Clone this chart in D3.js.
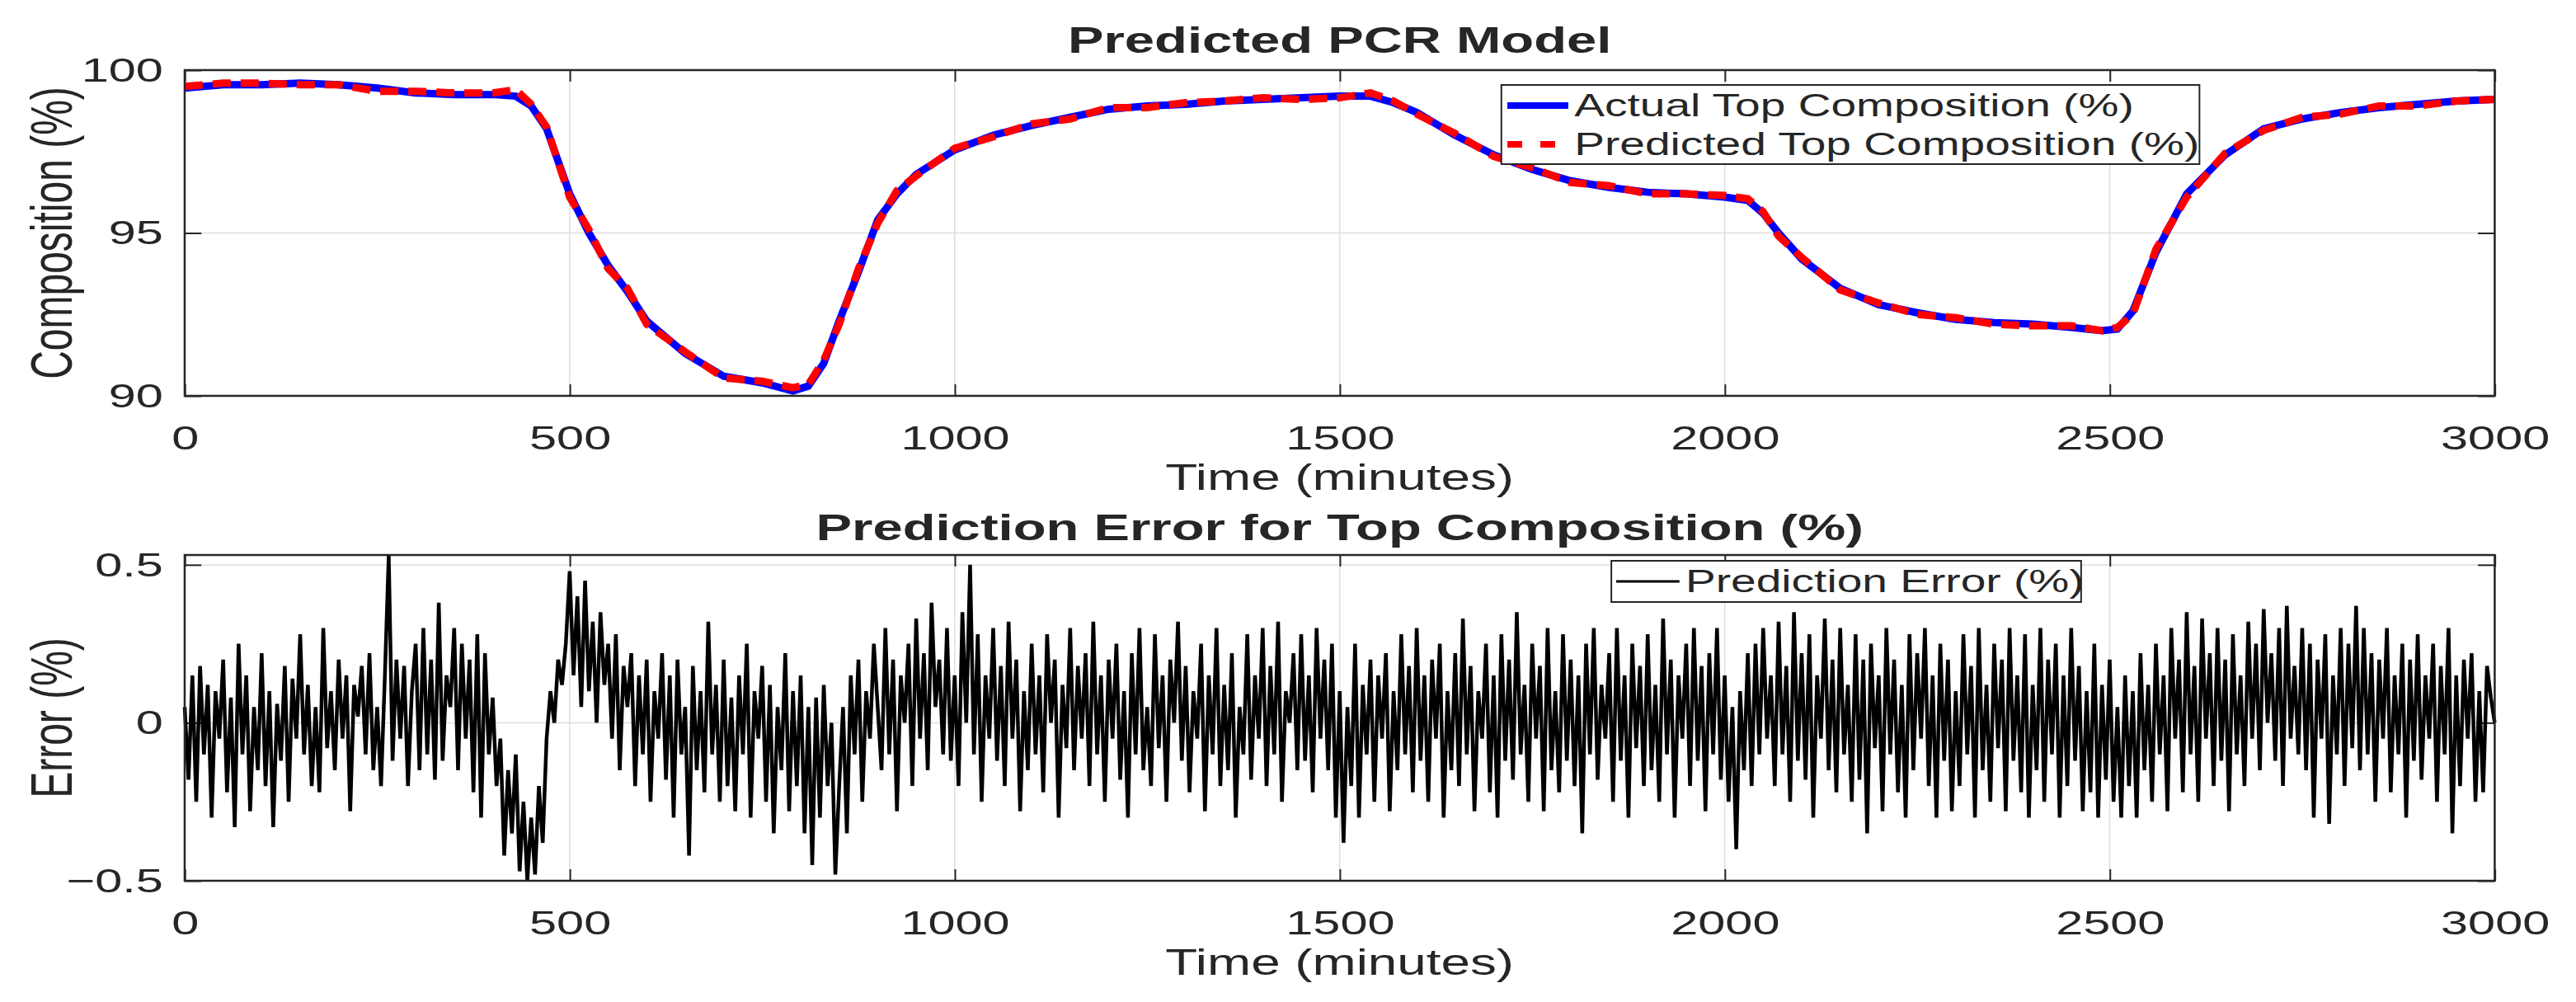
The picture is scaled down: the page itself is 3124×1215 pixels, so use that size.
<!DOCTYPE html>
<html>
<head>
<meta charset="utf-8">
<script src="https://cdn.jsdelivr.net/npm/d3@7"></script>
<style>
  html, body { margin: 0; padding: 0; background: #fff; }
  svg { display: block; }
  text { font-family: "Liberation Sans", Arial, sans-serif; fill: #262626; }
</style>
</head>
<body>
<div id="chart"></div>
<script>
// Data
const compTimes = [0,50,100,150,200,250,300,350,400,430,450,470,500,525,550,575,600,650,700,750,790,810,830,850,875,900,925,950,1000,1050,1100,1150,1200,1250,1300,1350,1400,1450,1500,1540,1570,1600,1650,1700,1750,1800,1850,1900,1950,2000,2030,2050,2070,2100,2150,2200,2250,2300,2350,2400,2450,2490,2510,2530,2560,2600,2650,2700,2750,2800,2850,2900,2950,3000];
const actualComp = [99.45,99.55,99.55,99.6,99.55,99.45,99.3,99.25,99.25,99.2,98.9,98.2,96.2,95.0,94.0,93.2,92.3,91.3,90.6,90.4,90.15,90.3,91.0,92.3,93.8,95.4,96.2,96.8,97.55,98.0,98.3,98.55,98.8,98.9,98.95,99.05,99.1,99.15,99.2,99.2,99.0,98.7,98.0,97.4,96.95,96.6,96.4,96.25,96.2,96.1,96.0,95.6,95.0,94.2,93.3,92.8,92.55,92.35,92.25,92.2,92.1,92.0,92.05,92.6,94.4,96.2,97.4,98.2,98.5,98.7,98.85,98.95,99.05,99.1];
const predictedComp = [99.5,99.6,99.6,99.55,99.55,99.35,99.35,99.3,99.3,99.4,98.95,98.25,96.1,95.1,93.9,93.3,92.2,91.35,90.55,90.45,90.25,90.35,91.1,92.2,93.9,95.3,96.3,96.75,97.6,97.95,98.35,98.5,98.85,98.85,99.0,99.05,99.15,99.1,99.15,99.3,99.05,98.65,98.05,97.35,97.0,96.55,96.45,96.2,96.2,96.15,96.05,95.65,94.9,94.25,93.25,92.85,92.5,92.4,92.2,92.15,92.15,92.0,92.1,92.5,94.5,96.1,97.45,98.15,98.55,98.65,98.9,98.9,99.05,99.1];

const errorStep = 5; // minutes between error samples
const errorValues = [
0.05,-0.18,0.15,-0.25,0.18,-0.1,0.12,-0.3,0.1,-0.05,
0.2,-0.22,0.08,-0.33,0.25,-0.1,0.15,-0.28,0.05,-0.15,
0.22,-0.2,0.1,-0.33,0.06,-0.12,0.18,-0.25,0.14,-0.05,
0.28,-0.1,0.12,-0.2,0.05,-0.22,0.3,-0.08,0.1,-0.15,
0.2,-0.05,0.15,-0.28,0.12,0.02,0.18,-0.1,0.22,-0.15,
0.05,-0.2,0.15,0.53,-0.12,0.2,-0.05,0.18,-0.2,0.1,
0.25,-0.15,0.3,-0.1,0.2,-0.18,0.38,-0.12,0.15,0.05,
0.3,-0.15,0.25,-0.05,0.2,-0.22,0.28,-0.3,0.22,-0.1,
0.08,-0.2,-0.05,-0.42,-0.15,-0.35,-0.1,-0.47,-0.25,-0.5,
-0.3,-0.48,-0.2,-0.38,-0.05,0.1,0.0,0.2,0.12,0.25,
0.48,0.15,0.4,0.05,0.45,0.1,0.32,0.0,0.35,0.12,
0.25,-0.05,0.28,-0.15,0.18,0.05,0.22,-0.2,0.15,-0.1,
0.2,-0.25,0.1,-0.05,0.22,-0.18,0.15,-0.3,0.2,-0.1,
0.05,-0.42,0.18,-0.15,0.1,-0.22,0.32,-0.1,0.12,-0.25,
0.2,-0.2,0.08,-0.28,0.15,-0.1,0.25,-0.3,0.1,-0.05,
0.18,-0.25,0.12,-0.35,0.05,-0.15,0.22,-0.28,0.1,-0.2,
0.15,-0.35,0.05,-0.45,0.08,-0.3,0.12,-0.2,0.0,-0.48,
-0.2,0.05,-0.35,0.15,-0.1,0.2,-0.25,0.1,-0.05,0.25,
0.05,-0.15,0.3,-0.1,0.2,-0.28,0.15,0.0,0.25,-0.2,
0.33,-0.05,0.22,-0.15,0.38,0.05,0.2,-0.1,0.3,-0.12,
0.15,-0.2,0.35,0.0,0.5,-0.1,0.28,-0.25,0.15,-0.05,
0.3,-0.12,0.18,-0.2,0.32,-0.05,0.2,-0.28,0.1,-0.15,
0.25,-0.1,0.15,-0.22,0.28,0.0,0.2,-0.3,0.12,-0.08,
0.3,-0.15,0.18,-0.05,0.22,-0.2,0.32,-0.1,0.15,-0.25,
0.2,-0.05,0.25,-0.18,0.1,-0.3,0.22,-0.1,0.3,-0.15,
0.05,-0.2,0.28,-0.08,0.15,-0.25,0.2,0.0,0.32,-0.12,
0.18,-0.22,0.1,-0.05,0.25,-0.28,0.15,-0.1,0.3,-0.2,
0.12,-0.15,0.22,-0.3,0.05,-0.1,0.28,-0.18,0.15,-0.05,
0.3,-0.2,0.18,-0.1,0.32,-0.25,0.1,0.0,0.22,-0.15,
0.28,-0.12,0.15,-0.22,0.3,-0.05,0.2,-0.15,0.25,-0.3,
0.1,-0.38,0.05,-0.2,0.25,-0.3,0.12,-0.1,0.2,-0.25,
0.15,-0.05,0.22,-0.28,0.1,-0.15,0.28,-0.1,0.18,-0.22,
0.3,-0.12,0.15,-0.25,0.2,-0.05,0.25,-0.3,0.1,-0.15,
0.22,-0.2,0.33,-0.1,0.18,-0.28,0.1,-0.05,0.25,-0.22,
0.15,-0.3,0.28,-0.12,0.2,-0.18,0.35,-0.1,0.12,-0.25,
0.25,-0.05,0.18,-0.28,0.3,-0.15,0.1,-0.22,0.28,-0.12,
0.2,-0.2,0.15,-0.35,0.25,-0.1,0.3,-0.18,0.12,-0.05,
0.22,-0.25,0.3,-0.12,0.15,-0.3,0.25,-0.08,0.18,-0.2,
0.28,-0.15,0.12,-0.25,0.33,-0.1,0.2,-0.3,0.15,-0.05,
0.25,-0.2,0.3,-0.12,0.18,-0.28,0.22,-0.1,0.3,-0.18,
0.15,-0.25,0.05,-0.4,0.1,-0.15,0.22,-0.2,0.25,-0.1,
0.3,-0.05,0.15,-0.2,0.32,-0.1,0.18,-0.25,0.35,-0.12,
0.22,-0.18,0.28,-0.3,0.15,-0.05,0.33,-0.15,0.2,-0.22,
0.3,-0.1,0.12,-0.25,0.28,-0.18,0.2,-0.35,0.25,-0.08,
0.15,-0.28,0.3,-0.1,0.2,-0.22,0.12,-0.3,0.28,-0.15,
0.22,-0.05,0.3,-0.2,0.15,-0.3,0.25,-0.12,0.2,-0.28,
0.1,-0.2,0.28,-0.1,0.18,-0.3,0.3,-0.15,0.12,-0.25,
0.25,-0.08,0.2,-0.28,0.3,-0.12,0.15,-0.22,0.28,-0.3,
0.12,-0.15,0.3,-0.25,0.2,-0.1,0.25,-0.3,0.15,-0.2,
0.3,-0.12,0.18,-0.28,0.1,-0.22,0.25,-0.3,0.12,-0.18,
0.2,-0.25,0.05,-0.3,0.15,-0.2,0.1,-0.3,0.22,-0.15,
0.12,-0.25,0.25,-0.1,0.15,-0.28,0.3,-0.05,0.2,-0.22,
0.35,-0.1,0.18,-0.25,0.33,-0.05,0.22,-0.2,0.3,-0.12,
0.2,-0.28,0.28,-0.1,0.15,-0.2,0.32,-0.05,0.25,-0.15,
0.36,0.0,0.22,-0.12,0.3,-0.2,0.37,-0.05,0.18,-0.1,
0.3,-0.15,0.25,-0.3,0.2,-0.05,0.28,-0.32,0.15,-0.1,
0.3,-0.2,0.25,-0.08,0.37,-0.15,0.3,-0.1,0.22,-0.25,
0.2,-0.05,0.3,-0.22,0.15,-0.1,0.25,-0.3,0.2,-0.12,
0.28,-0.18,0.15,-0.05,0.25,-0.25,0.18,-0.1,0.3,-0.35,
0.15,-0.2,0.2,-0.05,0.22,-0.25,0.1,-0.22,0.18,0.08,
0.0];

const xTicks = [0,500,1000,1500,2000,2500,3000];
const compTicks = [90,95,100];
const errTicks = [-0.5,0,0.5];

// the picture is stretched sideways, so draw on a narrower canvas and stretch it
const W = 2155, H = 1215;
const svg = d3.select("#chart").append("svg")
    .attr("width", 3124).attr("height", 1215)
    .attr("viewBox", `0 0 ${W} ${H}`)
    .attr("preserveAspectRatio", "none");

const left = 154.5, right = 2087;
const x = d3.scaleLinear().domain([0, 3000]).range([left, right]);

const drawPanel = (top, bottom, y, yTicks, fmt) => {
    const g = svg.append("g");
    // grid
    g.selectAll(".gx").data(xTicks).enter().append("line")
        .attr("x1", d => x(d)).attr("x2", d => x(d)).attr("y1", top).attr("y2", bottom)
        .attr("stroke", "#dedede").attr("stroke-width", 1.5).attr("vector-effect", "non-scaling-stroke");
    g.selectAll(".gy").data(yTicks).enter().append("line")
        .attr("x1", left).attr("x2", right).attr("y1", d => y(d)).attr("y2", d => y(d))
        .attr("stroke", "#dedede").attr("stroke-width", 1.5).attr("vector-effect", "non-scaling-stroke");
    const xb = g.append("g").attr("transform", `translate(0,${bottom})`)
        .call(d3.axisBottom(x).tickValues(xTicks).tickSizeInner(-14).tickSizeOuter(0).tickPadding(36).tickFormat(d3.format("d")));
    const xt = g.append("g").attr("transform", `translate(0,${top})`)
        .call(d3.axisTop(x).tickValues(xTicks).tickSizeInner(-14).tickSizeOuter(0).tickFormat(""));
    const yl = g.append("g").attr("transform", `translate(${left},0)`)
        .call(d3.axisLeft(y).tickValues(yTicks).tickSizeInner(-14).tickSizeOuter(0).tickPadding(18).tickFormat(fmt));
    const yr = g.append("g").attr("transform", `translate(${right},0)`)
        .call(d3.axisRight(y).tickValues(yTicks).tickSizeInner(-14).tickSizeOuter(0).tickFormat(""));
    [xb, xt, yl, yr].forEach(a => {
        a.select(".domain").remove();
        a.selectAll("line").attr("stroke", "#262626").attr("stroke-width", 2).attr("vector-effect", "non-scaling-stroke");
        a.selectAll("text").style("font-size", "41px").attr("fill", "#262626");
    });
    return g;
};

const frame = (top, bottom) => svg.append("rect")
    .attr("x", left).attr("y", top).attr("width", right - left).attr("height", bottom - top)
    .attr("fill", "none").attr("stroke", "#262626").attr("stroke-width", 2.5)
    .attr("vector-effect", "non-scaling-stroke");

// Top panel
const t1 = 85, b1 = 480;
const yComp = d3.scaleLinear().domain([90, 100]).range([b1, t1]);
drawPanel(t1, b1, yComp, compTicks, d3.format("d"));

const compLine = d3.line().x((d, i) => x(compTimes[i])).y(d => yComp(d));
svg.append("path").datum(actualComp).attr("d", compLine)
    .attr("fill", "none").attr("stroke", "#0000ff").attr("stroke-width", 9)
    .attr("vector-effect", "non-scaling-stroke");
svg.append("path").datum(predictedComp).attr("d", compLine)
    .attr("fill", "none").attr("stroke", "#ff0000").attr("stroke-width", 9)
    .attr("stroke-dasharray", "22,12").attr("vector-effect", "non-scaling-stroke");
frame(t1, b1);

svg.append("text").attr("x", (left + right) / 2).attr("y", 64).attr("text-anchor", "middle")
    .style("font-size", "45px").style("font-weight", "bold").attr("fill", "#000").text("Predicted PCR Model");
svg.append("text").attr("x", (left + right) / 2).attr("y", 594).attr("text-anchor", "middle")
    .style("font-size", "44px").text("Time (minutes)");
svg.append("text").attr("transform", `translate(60,${(t1 + b1) / 2}) rotate(-90)`).attr("text-anchor", "middle")
    .style("font-size", "48px").text("Composition (%)");

// Top legend
const lg1 = svg.append("g");
lg1.append("rect").attr("x", 1256).attr("y", 103).attr("width", 584).attr("height", 96)
    .attr("fill", "#fff").attr("stroke", "#262626").attr("stroke-width", 2).attr("vector-effect", "non-scaling-stroke");
lg1.append("line").attr("x1", 1261).attr("x2", 1312).attr("y1", 128).attr("y2", 128)
    .attr("stroke", "#0000ff").attr("stroke-width", 8).attr("vector-effect", "non-scaling-stroke");
lg1.append("line").attr("x1", 1261).attr("x2", 1312).attr("y1", 175).attr("y2", 175)
    .attr("stroke", "#ff0000").attr("stroke-width", 8).attr("stroke-dasharray", "18,22").attr("vector-effect", "non-scaling-stroke");
lg1.append("text").attr("x", 1317).attr("y", 141).style("font-size", "38px").attr("fill", "#000").text("Actual Top Composition (%)");
lg1.append("text").attr("x", 1317).attr("y", 188).style("font-size", "38px").attr("fill", "#000").text("Predicted Top Composition (%)");

// Bottom panel
const t2 = 673, b2 = 1068;
const yErr = d3.scaleLinear().domain([-0.5, 0.531]).range([b2, t2]);
drawPanel(t2, b2, yErr, errTicks, d => d === 0 ? "0" : d3.format(".1f")(d).replace("-", "\u2212"));

const errLine = d3.line().x((d, i) => x(i * errorStep)).y(d => yErr(d));
svg.append("path").datum(errorValues).attr("d", errLine)
    .attr("fill", "none").attr("stroke", "#000").attr("stroke-width", 4.5)
    .attr("stroke-linejoin", "miter").attr("vector-effect", "non-scaling-stroke");
frame(t2, b2);

svg.append("text").attr("x", (left + right) / 2).attr("y", 655).attr("text-anchor", "middle")
    .style("font-size", "45px").style("font-weight", "bold").attr("fill", "#000").text("Prediction Error for Top Composition (%)");
svg.append("text").attr("x", (left + right) / 2).attr("y", 1182).attr("text-anchor", "middle")
    .style("font-size", "44px").text("Time (minutes)");
svg.append("text").attr("transform", `translate(60,${(t2 + b2) / 2}) rotate(-90)`).attr("text-anchor", "middle")
    .style("font-size", "48px").text("Error (%)");

const lg2 = svg.append("g");
lg2.append("rect").attr("x", 1348).attr("y", 680).attr("width", 393).attr("height", 50)
    .attr("fill", "#fff").attr("stroke", "#262626").attr("stroke-width", 2).attr("vector-effect", "non-scaling-stroke");
lg2.append("line").attr("x1", 1352).attr("x2", 1405).attr("y1", 705).attr("y2", 705)
    .attr("stroke", "#000").attr("stroke-width", 3).attr("vector-effect", "non-scaling-stroke");
lg2.append("text").attr("x", 1410).attr("y", 718).style("font-size", "38px").attr("fill", "#000").text("Prediction Error (%)");
</script>
</body>
</html>
